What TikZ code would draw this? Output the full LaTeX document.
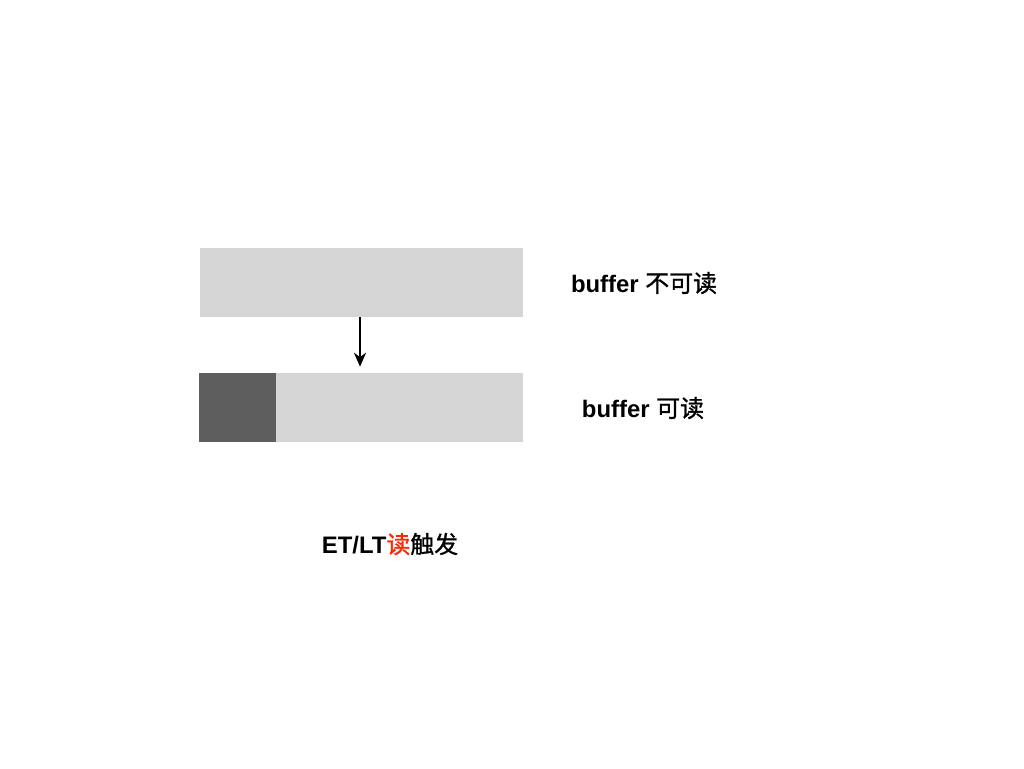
\documentclass[tikz,border=0pt]{standalone}
\usepackage{fontspec}
\setmainfont{Liberation Sans}
\newfontfamily\cjk[FakeBold=1.2]{Noto Sans CJK SC}
\usepackage{tikz}
\usetikzlibrary{arrows.meta}
\definecolor{barLight}{RGB}{214,213,214}
\definecolor{barDark}{RGB}{94,94,94}
\definecolor{readRed}{RGB}{255,38,0}

\begin{document}
\begin{tikzpicture}[x=0.02cm,y=-0.02cm,
	bar/.style={rectangle,inner sep=0pt,minimum height=1.38cm,fill=barLight},
	label/.style={font=\fontsize{13.6}{15}\selectfont\bfseries}]
	\useasboundingbox (0,0) rectangle (1024,768);
	\node[bar,minimum width=6.46cm] (notReadable) at (361.5,282.5) {};
	\node[bar,fill=barDark,minimum width=1.54cm] (dataPart) at (237.5,407.5) {};
	\node[bar,minimum width=4.94cm] (emptyPart) at (399.5,407.5) {};

	\node[label] (notReadableText) at (644,283) {buffer {\cjk\mdseries 不可读}};
	\node[label] (readableText) at (643,408) {buffer {\cjk\mdseries 可读}};
	\node[label] (trigger) at (390,544) {ET/LT{\cjk\mdseries\color{readRed}读}{\cjk\mdseries 触发}};

\draw[-{Stealth[length=8pt,width=7pt]},line width=0.9pt,shorten >=0.12cm](notReadable.south -| 360,0) -- (emptyPart.north -| 360,0);

\end{tikzpicture}
\end{document}
